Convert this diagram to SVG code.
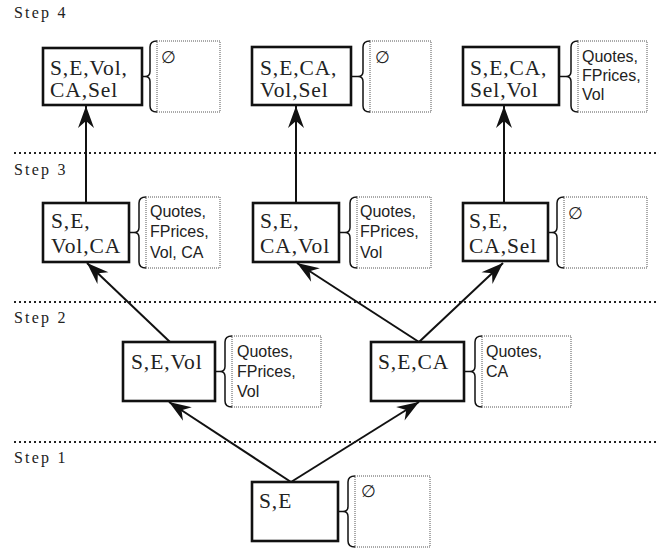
<svg xmlns="http://www.w3.org/2000/svg" width="669" height="548" viewBox="0 0 669 548">
<style>
.bg{fill:#fff}
.step{font-family:"Liberation Serif",serif;font-size:16px;letter-spacing:2.2px;fill:#222}
.sep{stroke:#222;stroke-width:1.8;stroke-dasharray:2 3;fill:none}
.box{fill:#fff;stroke:#111;stroke-width:2.6}
.bt{font-family:"Liberation Serif",serif;font-size:21.5px;letter-spacing:0.9px;fill:#222}
.db{fill:none;stroke:#555;stroke-width:1;stroke-dasharray:1 1}
.br{fill:none;stroke:#111;stroke-width:1.5}
.dt{font-family:"Liberation Sans",Arial,sans-serif;font-size:16px;fill:#222}
.es{font-family:"Liberation Sans",Arial,sans-serif;font-size:17px;fill:#222}
.edge{stroke:#111;stroke-width:2;fill:none;marker-end:url(#ah)}
</style>
<defs>
<marker id="ah" viewBox="-24 -9 25 18" refX="0" refY="0" markerWidth="25" markerHeight="18" markerUnits="userSpaceOnUse" orient="auto">
<path d="M0,0 L-22,-8 L-15,0 L-22,8 Z" fill="#111"/>
</marker>
</defs>
<rect class="bg" x="0" y="0" width="669" height="548"/>
<g id="steps">
<text class="step" x="14" y="18">Step 4</text>
<text class="step" x="14" y="175">Step 3</text>
<text class="step" x="14" y="323">Step 2</text>
<text class="step" x="14" y="463">Step 1</text>
<line class="sep" x1="14" y1="153" x2="656" y2="153"/>
<line class="sep" x1="14" y1="302" x2="656" y2="302"/>
<line class="sep" x1="14" y1="442" x2="656" y2="442"/>
</g>
<g id="connectors">
<line class="edge" x1="86" y1="203" x2="86" y2="106"/>
<line class="edge" x1="296" y1="203" x2="296" y2="106"/>
<line class="edge" x1="504" y1="203" x2="504" y2="106"/>
<line class="edge" x1="170" y1="342" x2="87" y2="263"/>
<line class="edge" x1="419" y1="342" x2="297" y2="263"/>
<line class="edge" x1="419" y1="342" x2="503" y2="263"/>
<line class="edge" x1="291" y1="482" x2="169" y2="402"/>
<line class="edge" x1="291" y1="482" x2="419" y2="402"/>
</g>
<g id="n4a">
<rect class="box" x="43" y="48" width="99" height="57"/>
<text class="bt" x="50" y="75">S,E,Vol,</text>
<text class="bt" x="50" y="97">CA,Sel</text>
<line class="br" x1="142" y1="76.5" x2="145" y2="76.5"/>
<path class="br" d="M157,41 Q150,41 150,47 L150,71.5 Q150,76.5 145,76.5 Q150,76.5 150,81.5 L150,106 Q150,112 157,112"/>
<rect class="db" x="157" y="41" width="63" height="71"/>
<text class="es" x="161" y="63">∅</text>
</g>
<g id="n4b">
<rect class="box" x="252" y="47" width="99" height="58"/>
<text class="bt" x="260" y="75">S,E,CA,</text>
<text class="bt" x="260" y="97">Vol,Sel</text>
<line class="br" x1="351" y1="76.5" x2="358" y2="76.5"/>
<path class="br" d="M370,41 Q363,41 363,47 L363,71.5 Q363,76.5 358,76.5 Q363,76.5 363,81.5 L363,106 Q363,112 370,112"/>
<rect class="db" x="370" y="41" width="61" height="71"/>
<text class="es" x="375" y="63">∅</text>
</g>
<g id="n4c">
<rect class="box" x="463" y="47" width="96" height="58"/>
<text class="bt" x="470" y="75">S,E,CA,</text>
<text class="bt" x="470" y="97">Sel,Vol</text>
<line class="br" x1="559" y1="76.5" x2="566" y2="76.5"/>
<path class="br" d="M578,41 Q571,41 571,47 L571,71.5 Q571,76.5 566,76.5 Q571,76.5 571,81.5 L571,106 Q571,112 578,112"/>
<rect class="db" x="578" y="41" width="69" height="71"/>
<text class="dt" x="582" y="62">Quotes,</text>
<text class="dt" x="582" y="81">FPrices,</text>
<text class="dt" x="582" y="100">Vol</text>
</g>
<g id="n3a">
<rect class="box" x="43" y="203" width="86" height="59"/>
<text class="bt" x="51" y="228">S,E,</text>
<text class="bt" x="51" y="253">Vol,CA</text>
<line class="br" x1="129" y1="232.5" x2="134" y2="232.5"/>
<path class="br" d="M146,197 Q139,197 139,203 L139,227.5 Q139,232.5 134,232.5 Q139,232.5 139,237.5 L139,262 Q139,268 146,268"/>
<rect class="db" x="146" y="197" width="74" height="71"/>
<text class="dt" x="150" y="217">Quotes,</text>
<text class="dt" x="150" y="237">FPrices,</text>
<text class="dt" x="150" y="258">Vol, CA</text>
</g>
<g id="n3b">
<rect class="box" x="253" y="203" width="86" height="59"/>
<text class="bt" x="260" y="228">S,E,</text>
<text class="bt" x="260" y="253">CA,Vol</text>
<line class="br" x1="339" y1="232.5" x2="345" y2="232.5"/>
<path class="br" d="M357,197 Q350,197 350,203 L350,227.5 Q350,232.5 345,232.5 Q350,232.5 350,237.5 L350,262 Q350,268 357,268"/>
<rect class="db" x="357" y="197" width="74" height="71"/>
<text class="dt" x="360" y="217">Quotes,</text>
<text class="dt" x="360" y="237">FPrices,</text>
<text class="dt" x="360" y="258">Vol</text>
</g>
<g id="n3c">
<rect class="box" x="463" y="203" width="85" height="58"/>
<text class="bt" x="469" y="228">S,E,</text>
<text class="bt" x="469" y="253">CA,Sel</text>
<line class="br" x1="548" y1="232.5" x2="552" y2="232.5"/>
<path class="br" d="M564,197 Q557,197 557,203 L557,227.5 Q557,232.5 552,232.5 Q557,232.5 557,237.5 L557,262 Q557,268 564,268"/>
<rect class="db" x="564" y="197" width="83" height="71"/>
<text class="es" x="568" y="219">∅</text>
</g>
<g id="n2a">
<rect class="box" x="123" y="342" width="92" height="59"/>
<text class="bt" x="131" y="369">S,E,Vol</text>
<line class="br" x1="215" y1="371.5" x2="220" y2="371.5"/>
<path class="br" d="M232,336 Q225,336 225,342 L225,366.5 Q225,371.5 220,371.5 Q225,371.5 225,376.5 L225,401 Q225,407 232,407"/>
<rect class="db" x="232" y="336" width="89" height="71"/>
<text class="dt" x="237" y="357">Quotes,</text>
<text class="dt" x="237" y="377">FPrices,</text>
<text class="dt" x="237" y="397">Vol</text>
</g>
<g id="n2b">
<rect class="box" x="371" y="342" width="93" height="59"/>
<text class="bt" x="378" y="369">S,E,CA</text>
<line class="br" x1="464" y1="371.5" x2="470" y2="371.5"/>
<path class="br" d="M482,336 Q475,336 475,342 L475,366.5 Q475,371.5 470,371.5 Q475,371.5 475,376.5 L475,401 Q475,407 482,407"/>
<rect class="db" x="482" y="336" width="89" height="71"/>
<text class="dt" x="486" y="357">Quotes,</text>
<text class="dt" x="486" y="377">CA</text>
</g>
<g id="n1">
<rect class="box" x="252" y="482" width="86" height="59"/>
<text class="bt" x="259" y="508">S,E</text>
<line class="br" x1="338" y1="511.5" x2="343" y2="511.5"/>
<path class="br" d="M355,476 Q348,476 348,482 L348,506.5 Q348,511.5 343,511.5 Q348,511.5 348,516.5 L348,541 Q348,547 355,547"/>
<rect class="db" x="355" y="476" width="75" height="71"/>
<text class="es" x="361" y="497">∅</text>
</g>
</svg>
